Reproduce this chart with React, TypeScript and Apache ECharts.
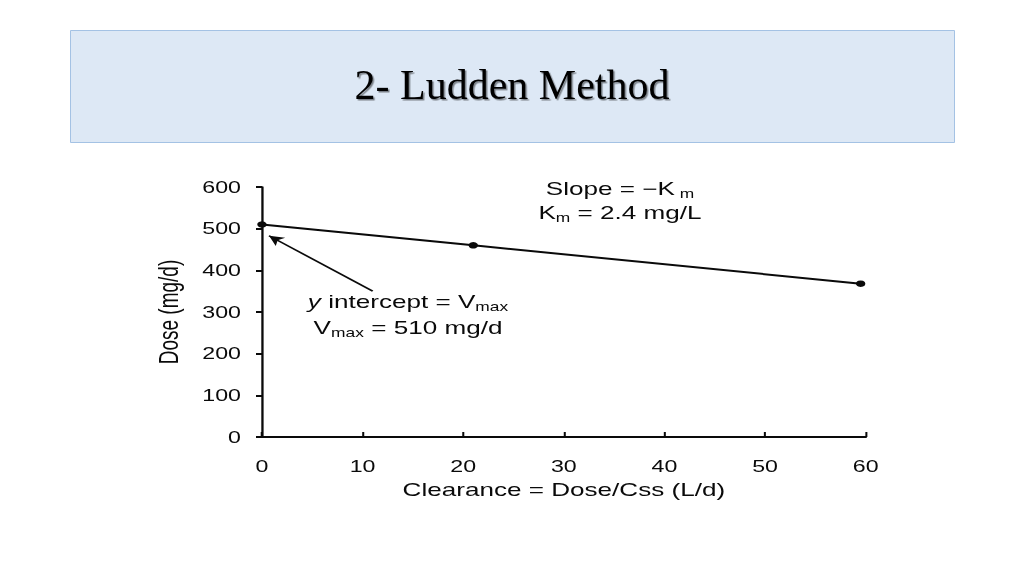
import React, { useEffect, useRef } from "react";
import * as echarts from "echarts";

const titleText = "2- Ludden Method";
const clearance = [0, 21, 59.5];
const dose = [510, 460, 368];
const xTicks = [0, 10, 20, 30, 40, 50, 60];
const yTicks = [0, 100, 200, 300, 400, 500, 600];
const xName = "Clearance = Dose/Css (L/d)";
const yName = "Dose (mg/d)";
const arrowFrom = [11.0, 350];
const arrowTo = [0.7, 483];

const FONT = "Liberation Sans";
const INK = "#0a0a0a";
const SX = 1.45; // the figure in the slide is stretched horizontally
const W = 1024 / SX;

export default function App() {
  const titleRef = useRef<HTMLDivElement>(null);
  const ref = useRef<HTMLDivElement>(null);
  useEffect(() => {
    if (!ref.current || !titleRef.current) return;
    const tchart = echarts.init(titleRef.current, null, { renderer: "svg" });
    tchart.setOption({
      animation: false,
      graphic: [
        {
          type: "rect",
          shape: { x: 70.5, y: 30.5, width: 884, height: 112 },
          style: { fill: "#dde8f5", stroke: "#a4c2e4", lineWidth: 1 },
        },
        {
          type: "text",
          x: 512,
          y: 85,
          style: {
            text: titleText,
            fontFamily: "Liberation Serif",
            fontSize: 42,
            fill: "#000",
            align: "center",
            verticalAlign: "middle",
            textShadowColor: "rgba(0,0,0,0.45)",
            textShadowOffsetX: 1.5,
            textShadowOffsetY: 1.5,
            textShadowBlur: 1,
          },
        },
      ],
    });

    const chart = echarts.init(ref.current, null, { renderer: "svg" });
    const left = 262 / SX;
    const right = W - 866 / SX;
    const option: any = {
      animation: false,
      grid: { left, right, top: 187, bottom: 139, containLabel: false },
      xAxis: {
        type: "value",
        min: xTicks[0],
        max: xTicks[xTicks.length - 1],
        interval: 10,
        name: xName,
        nameLocation: "middle",
        nameGap: 44,
        nameTextStyle: { fontFamily: FONT, fontSize: 18, color: INK },
        axisLine: { show: true, onZero: false, lineStyle: { color: INK, width: 2 } },
        axisTick: { show: true, inside: true, length: 5, lineStyle: { color: INK, width: 1.4 } },
        axisLabel: { fontFamily: FONT, fontSize: 16, color: INK, margin: 21 },
        splitLine: { show: false },
      },
      yAxis: {
        type: "value",
        min: yTicks[0],
        max: yTicks[yTicks.length - 1],
        interval: 100,
        name: yName,
        nameLocation: "middle",
        nameGap: 80 / SX,
        nameTextStyle: { fontFamily: FONT, fontSize: 19, color: INK },
        axisLine: { show: true, lineStyle: { color: INK, width: 1.6 } },
        axisTick: { show: true, length: 6 / SX, lineStyle: { color: INK, width: 2 } },
        axisLabel: { fontFamily: FONT, fontSize: 16, color: INK, margin: 21 / SX },
        splitLine: { show: false },
      },
      series: [
        {
          type: "line",
          data: clearance.map((c, i) => [c, dose[i]]),
          symbol: "circle",
          symbolSize: 6.5,
          lineStyle: { color: INK, width: 2 },
          itemStyle: { color: INK },
          markLine: {
            silent: true,
            symbol: ["none", "arrow"],
            symbolSize: [8, 10],
            label: { show: false },
            lineStyle: { color: INK, width: 1.5, type: "solid" },
            data: [[{ coord: arrowFrom }, { coord: arrowTo }]],
          },
        },
      ],
      graphic: [
        {
          type: "text",
          x: 620 / SX,
          y: 201,
          style: {
            text: "{n|Slope = −K}{s| m}\n{n|K}{s|m}{n| = 2.4 mg/L}",
            align: "center",
            verticalAlign: "middle",
            fill: INK,
            rich: {
              n: { fontFamily: FONT, fontSize: 18, lineHeight: 24, fill: INK },
              s: { fontFamily: FONT, fontSize: 12, lineHeight: 24, fill: INK, padding: [10, 0, 0, 0] },
            },
          },
        },
        {
          type: "text",
          x: 408 / SX,
          y: 315,
          style: {
            text: "{i|y}{n| intercept = V}{s|max}\n{n|V}{s|max}{n| = 510 mg/d}",
            align: "center",
            verticalAlign: "middle",
            fill: INK,
            rich: {
              i: { fontFamily: FONT, fontSize: 18, fontStyle: "italic", lineHeight: 26, fill: INK },
              n: { fontFamily: FONT, fontSize: 18, lineHeight: 26, fill: INK },
              s: { fontFamily: FONT, fontSize: 12, lineHeight: 26, fill: INK, padding: [10, 0, 0, 0] },
            },
          },
        },
      ],
    };
    chart.setOption(option);
    return () => {
      chart.dispose();
      tchart.dispose();
    };
  }, []);
  return (
    <div style={{ position: "fixed", left: 0, top: 0, width: 1024, height: 576, background: "#fff", overflow: "hidden" }}>
      <div ref={titleRef} style={{ position: "absolute", left: 0, top: 0, width: 1024, height: 160 }} />
      <div
        ref={ref}
        style={{
          position: "absolute",
          left: 0,
          top: 0,
          width: W,
          height: 576,
          transform: `scaleX(${SX})`,
          transformOrigin: "0 0",
        }}
      />
    </div>
  );
}
